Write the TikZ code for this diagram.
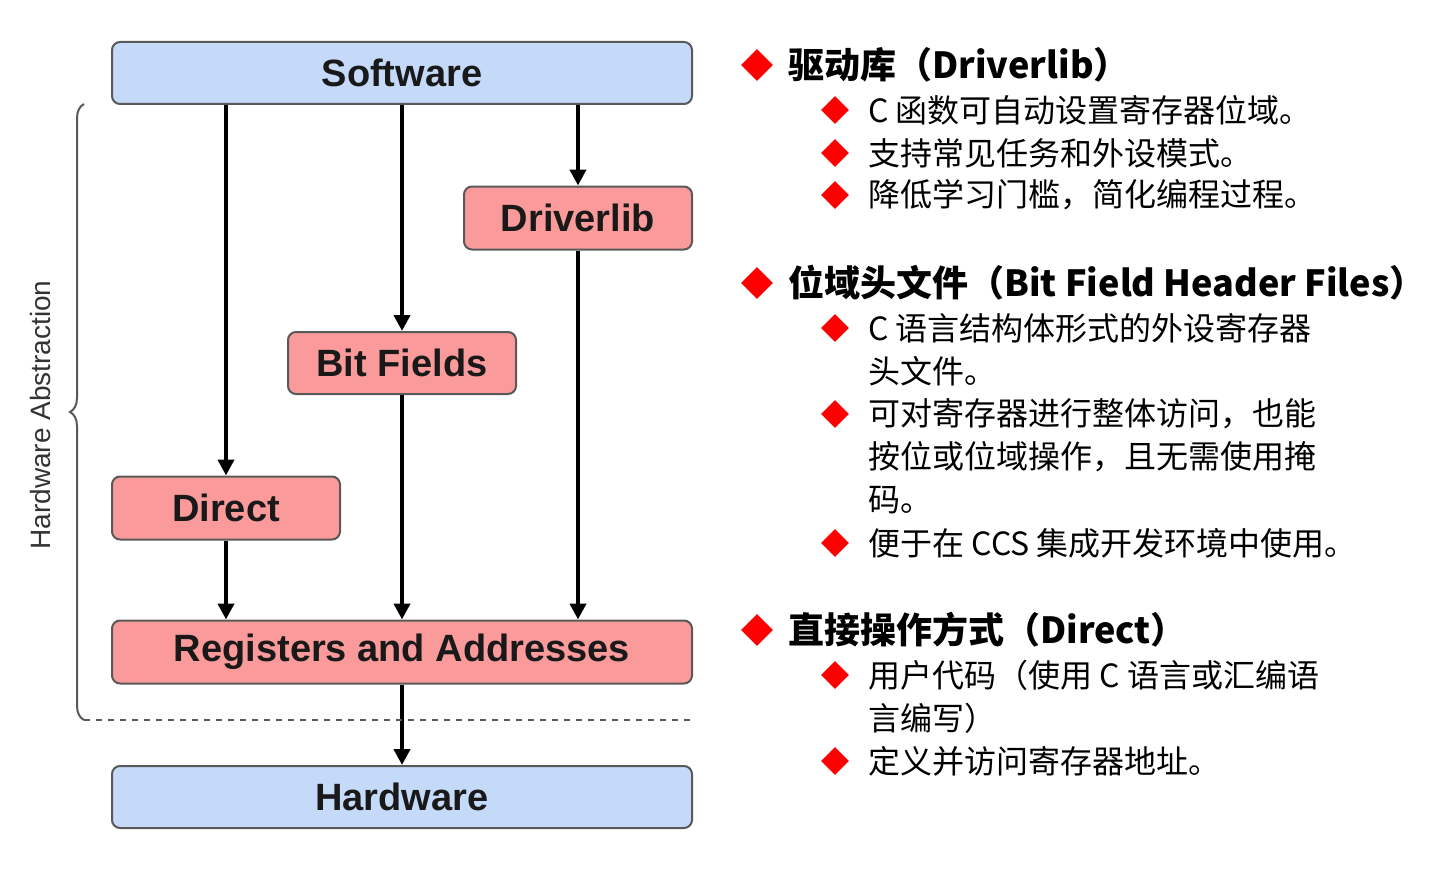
\documentclass[tikz,border=0pt]{standalone}
\usepackage{fontspec}
\setmainfont{Liberation Sans}
\newfontfamily\cjk{Noto Sans CJK SC}
\usetikzlibrary{arrows.meta,shapes.geometric,decorations.pathreplacing}
\definecolor{boxblue}{HTML}{C5D9F9}
\definecolor{boxred}{HTML}{FB9A9A}
\tikzset{
  layer/.style={draw=gray!70!black,rounded corners=4pt,line width=1pt,
    font=\bfseries\fontsize{19}{22}\selectfont,text=black!90,inner sep=0pt},
  blue layer/.style={layer,fill=boxblue},
  red layer/.style={layer,fill=boxred},
  flow/.style={-{Triangle[length=8pt,width=8pt]},line width=2pt},
  bul/.style={diamond,fill=red,inner sep=0pt,minimum size=#1},
  head/.style={anchor=west,inner sep=0pt,font=\cjk\bfseries\fontsize{18}{20}\selectfont},
  item/.style={anchor=west,inner sep=0pt,font=\cjk\fontsize{16}{18}\selectfont},
}
\begin{document}
\begin{tikzpicture}[x=0.5pt,y=-0.5pt]
\useasboundingbox (0,0) rectangle (1440,872);
% layers
\node[blue layer,minimum width=290pt,minimum height=31pt] (sw) at (402,73) {Software};
\node[red layer,minimum width=114pt,minimum height=31.5pt] (dl) at (578,218) {Driverlib};
\node[red layer,minimum width=114pt,minimum height=31pt] (bf) at (402,363) {Bit Fields};
\node[red layer,minimum width=114pt,minimum height=31.5pt] (di) at (226,508) {Direct};
\node[red layer,minimum width=290pt,minimum height=31.5pt] (reg) at (402,652) {Registers and Addresses};
\node[blue layer,minimum width=290pt,minimum height=31pt] (hw) at (402,797) {Hardware};
% arrows
\draw[flow] (sw.south -| di) -- (di);
\draw[flow] (sw.south -| bf) -- (bf);
\draw[flow] (sw.south -| dl) -- (dl);
\draw[flow] (di) -- (reg.north -| di);
\draw[flow] (bf) -- (reg.north -| bf);
\draw[flow] (dl) -- (reg.north -| dl);
\draw[flow] (reg) -- (hw);
% abstraction
\coordinate (bt) at (84,104);
\coordinate (bb) at (84,720);
\coordinate (de) at (692,720);
\draw[dashed,gray!70!black,line width=1pt] (bb) -- (de);
\draw[decorate,decoration={brace,amplitude=7pt},gray!70!black,line width=1pt] (bb) -- (bt);
\node[rotate=90,font=\fontsize{14}{16}\selectfont,text=black!80] (ha) at (40,415) {Hardware Abstraction};
% text
\foreach \y/\t in {65/{驱动库（Driverlib）},283/{位域头文件（Bit Field Header Files）},630/{直接操作方式（Direct）}}{
  \node[bul=16pt] at (757,\y) {};
  \node[head] at (788,\y) {\t};
}
\foreach \y/\t in {110/{C 函数可自动设置寄存器位域。},153/{支持常见任务和外设模式。},195/{降低学习门槛，简化编程过程。},
  328/{C 语言结构体形式的外设寄存器},414/{可对寄存器进行整体访问，也能},543/{便于在 CCS 集成开发环境中使用。},
  675/{用户代码（使用 C 语言或汇编语},761/{定义并访问寄存器地址。}}{
  \node[bul=14pt] at (835,\y) {};
  \node[item] at (868,\y) {\t};
}
\foreach \y/\t in {371/{头文件。},457/{按位或位域操作，且无需使用掩},500/{码。},718/{言编写）}}{
  \node[item] at (868,\y) {\t};
}
\end{tikzpicture}
\end{document}
